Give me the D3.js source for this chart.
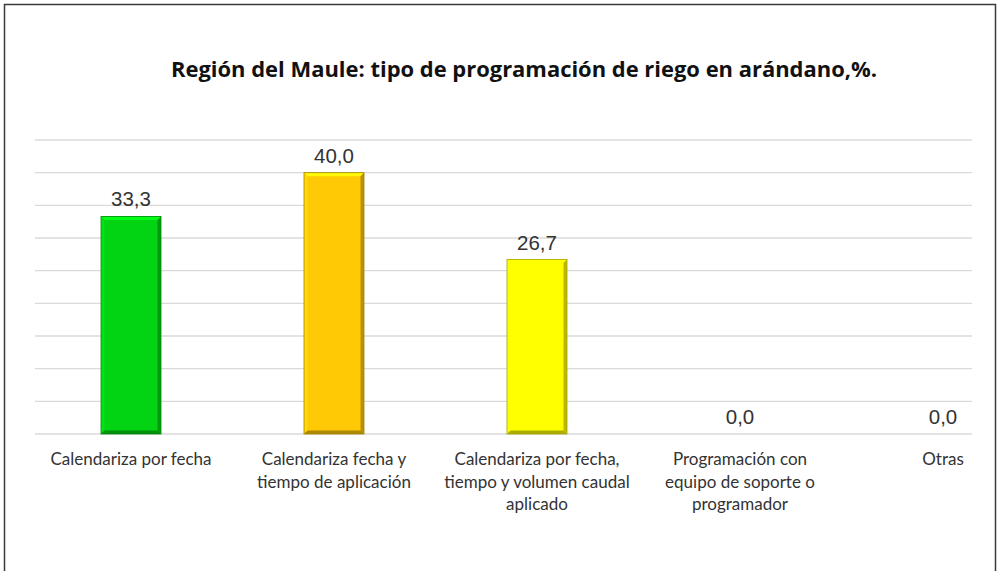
<!DOCTYPE html>
<html>
<head>
<meta charset="utf-8">
<script src="https://cdn.jsdelivr.net/npm/d3@7"></script>
<style>
  html, body { margin: 0; padding: 0; background: #fff; }
  svg { display: block; }
</style>
</head>
<body>
<svg id="chart" width="997" height="571"></svg>
<script>
// Irrigation scheduling type in blueberry, Maule region (%)
const categories = [
  ["Calendariza por fecha"],
  ["Calendariza fecha y", "tiempo de aplicación"],
  ["Calendariza por fecha,", "tiempo y volumen caudal", "aplicado"],
  ["Programación con", "equipo de soporte o", "programador"],
  ["Otras"]
];
const values = [33.3, 40.0, 26.7, 0.0, 0.0];
const barColors = ["#02d312", "#ffc905", "#ffff00", "#cccccc", "#cccccc"];
const yTicks = [0, 5, 10, 15, 20, 25, 30, 35, 40, 45];
const title = "Región del Maule: tipo de programación de riego en arándano,%.";

const W = 997, H = 571;
const plot = { left: 35, right: 972, top: 140, bottom: 434 };

const svg = d3.select("#chart");

// frame (top, left, right edges)
svg.append("path")
  .attr("d", `M4.5,${H} V4.5 H995.5 V${H}`)
  .attr("fill", "none")
  .attr("stroke", "#3a3a3a")
  .attr("stroke-width", 1.5);

const keys = categories.map((c, i) => i);
const x = d3.scalePoint().domain(keys).range([131, 943]);
const y = d3.scaleLinear().domain([0, 45]).range([plot.bottom, plot.top]);
const barW = 60;

// horizontal gridlines
svg.append("g").selectAll("line").data(yTicks).join("line")
  .attr("x1", plot.left).attr("x2", plot.right)
  .attr("y1", d => y(d)).attr("y2", d => y(d))
  .attr("stroke", "#dadada").attr("stroke-width", 1.3);

// title
svg.append("text")
  .attr("x", 524).attr("y", 77)
  .attr("text-anchor", "middle")
  .attr("font-family", "'Open Sans', sans-serif")
  .attr("font-weight", 700)
  .attr("font-size", 22)
  .attr("fill", "#111")
  .attr("textLength", 706)
  .attr("lengthAdjust", "spacingAndGlyphs")
  .text(title);

// bars with a bevelled edge
const bars = svg.append("g").selectAll("g")
  .data(values.map((v, i) => ({ v, i })).filter(d => d.v > 0))
  .join("g");

bars.append("rect")
  .attr("x", d => x(d.i) - barW / 2)
  .attr("y", d => y(d.v))
  .attr("width", barW)
  .attr("height", d => y(0) - y(d.v))
  .attr("fill", d => barColors[d.i]);

const bev = 3.5;
// top highlight
bars.append("path")
  .attr("d", d => {
    const x0 = x(d.i) - barW / 2, x1 = x0 + barW, t = y(d.v);
    return `M${x0},${t} H${x1} L${x1 - bev},${t + bev} H${x0 + bev} Z`;
  })
  .attr("fill", d => d3.color(barColors[d.i]).brighter(0.6));
// left light edge
bars.append("path")
  .attr("d", d => {
    const x0 = x(d.i) - barW / 2, t = y(d.v), b = y(0);
    return `M${x0},${t} L${x0 + bev},${t + bev} V${b - bev} L${x0},${b} Z`;
  })
  .attr("fill", d => d3.color(barColors[d.i]).brighter(0.2));
// right shade
bars.append("path")
  .attr("d", d => {
    const x1 = x(d.i) + barW / 2, t = y(d.v), b = y(0);
    return `M${x1},${t} L${x1 - bev},${t + bev} V${b - bev} L${x1},${b} Z`;
  })
  .attr("fill", d => d3.color(barColors[d.i]).darker(0.9));
// bottom shade
bars.append("path")
  .attr("d", d => {
    const x0 = x(d.i) - barW / 2, x1 = x0 + barW, b = y(0);
    return `M${x0},${b} H${x1} L${x1 - bev},${b - bev} H${x0 + bev} Z`;
  })
  .attr("fill", d => d3.color(barColors[d.i]).darker(1.1));
bars.append("rect")
  .attr("x", d => x(d.i) - barW / 2)
  .attr("y", d => y(d.v))
  .attr("width", barW)
  .attr("height", d => y(0) - y(d.v))
  .attr("fill", "none")
  .attr("stroke", d => d3.color(barColors[d.i]).darker(1.2))
  .attr("stroke-width", 0.8);

// value labels
const fmt = v => d3.format(".1f")(v).replace(".", ",");
svg.append("g").selectAll("text")
  .data(values)
  .join("text")
  .attr("x", (d, i) => x(i))
  .attr("y", d => y(d) - 10)
  .attr("text-anchor", "middle")
  .attr("font-family", "'Liberation Sans', Arial, sans-serif")
  .attr("font-size", 20.5)
  .attr("fill", "#333")
  .text(fmt);

// category labels
const catG = svg.append("g").selectAll("text")
  .data(categories)
  .join("text")
  .attr("x", (d, i) => x(i))
  .attr("y", 465)
  .attr("text-anchor", "middle")
  .attr("font-family", "Lato, sans-serif")
  .attr("font-size", 17)
  .attr("fill", "#333");
catG.selectAll("tspan")
  .data(d => d)
  .join("tspan")
  .attr("x", function () { return d3.select(this.parentNode).attr("x"); })
  .attr("dy", (d, j) => j === 0 ? 0 : 22.5)
  .text(d => d);
</script>
</body>
</html>
